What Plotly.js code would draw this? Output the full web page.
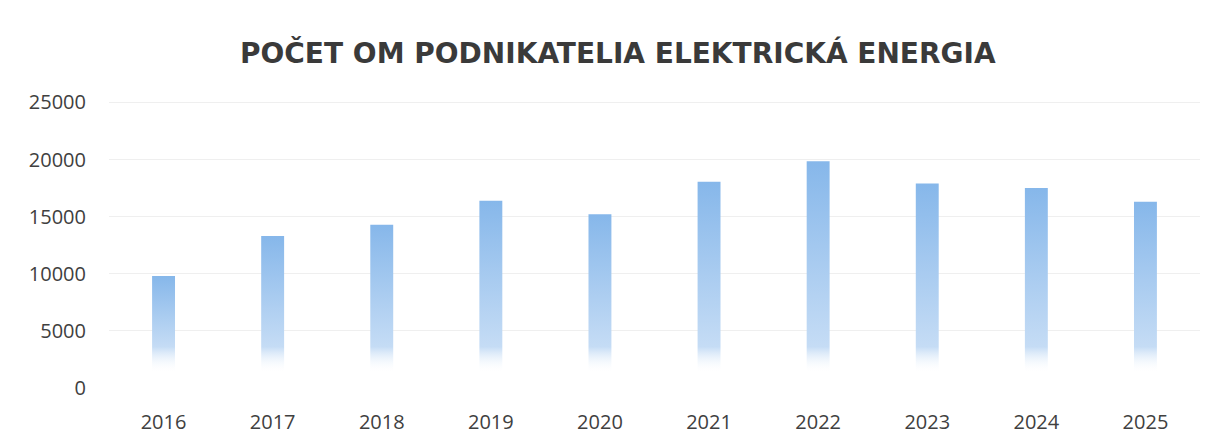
<!DOCTYPE html>
<html>
<head>
<meta charset="utf-8">
<script src="https://cdn.plot.ly/plotly-3.0.1.min.js"></script>
<style>
  html, body { margin: 0; padding: 0; background: #ffffff; }
  #chart { width: 1221px; height: 439px; }
</style>
</head>
<body>
<div id="chart"></div>
<script>
// Data
const years = ['2016', '2017', '2018', '2019', '2020', '2021', '2022', '2023', '2024', '2025'];
const counts = [9800, 13300, 14300, 16400, 15200, 18050, 19850, 17900, 17500, 16300];
const yTicks = [0, 5000, 10000, 15000, 20000, 25000];

const halfWidth = 0.105;
const fadeEnd = 1300;   // value where bar is fully transparent
const fadeTop = 3600;   // value where bar reaches light blue

const traces = counts.map((v, i) => ({
  type: 'scatter',
  mode: 'lines',
  line: { width: 0 },
  x: [i - halfWidth, i + halfWidth, i + halfWidth, i - halfWidth, i - halfWidth],
  y: [0, 0, v, v, 0],
  fill: 'toself',
  fillgradient: {
    type: 'vertical',
    start: 0,
    stop: v,
    colorscale: [
      [0, 'rgba(255,255,255,0)'],
      [fadeEnd / v, 'rgba(255,255,255,0)'],
      [fadeTop / v, 'rgba(197,220,245,1)'],
      [1, 'rgba(134,183,234,1)']
    ]
  },
  name: years[i],
  hovertemplate: years[i] + ': ' + v + '<extra></extra>',
  showlegend: false
}));

const layout = {
  width: 1221,
  height: 439,
  margin: { l: 109, r: 21, t: 99, b: 51 },
  paper_bgcolor: '#ffffff',
  plot_bgcolor: '#ffffff',
  title: {
    text: '<b>POČET OM PODNIKATELIA ELEKTRICKÁ ENERGIA</b>',
    font: { family: '"DejaVu Sans", sans-serif', size: 28, color: '#3a3a3a' },
    x: 0.506,
    xanchor: 'center',
    y: 0.878,
    yanchor: 'middle'
  },
  xaxis: {
    range: [-0.5, 9.5],
    tickmode: 'array',
    tickvals: years.map((_, i) => i),
    ticktext: years,
    showgrid: false,
    zeroline: false,
    showline: false,
    ticks: '',
    ticklabelstandoff: 20,
    tickfont: { family: '"Open Sans", sans-serif', size: 20, color: '#404040' },
    fixedrange: true
  },
  yaxis: {
    range: [0, 25300],
    tickmode: 'array',
    tickvals: yTicks,
    ticktext: yTicks.map(String),
    showgrid: true,
    gridcolor: '#efefef',
    gridwidth: 1,
    zeroline: false,
    showline: false,
    ticks: '',
    ticklabelstandoff: 22,
    tickfont: { family: '"Open Sans", sans-serif', size: 20, color: '#404040' },
    fixedrange: true
  },
  showlegend: false
};

Plotly.newPlot('chart', traces, layout, { displayModeBar: false, staticPlot: true });
</script>
</body>
</html>
